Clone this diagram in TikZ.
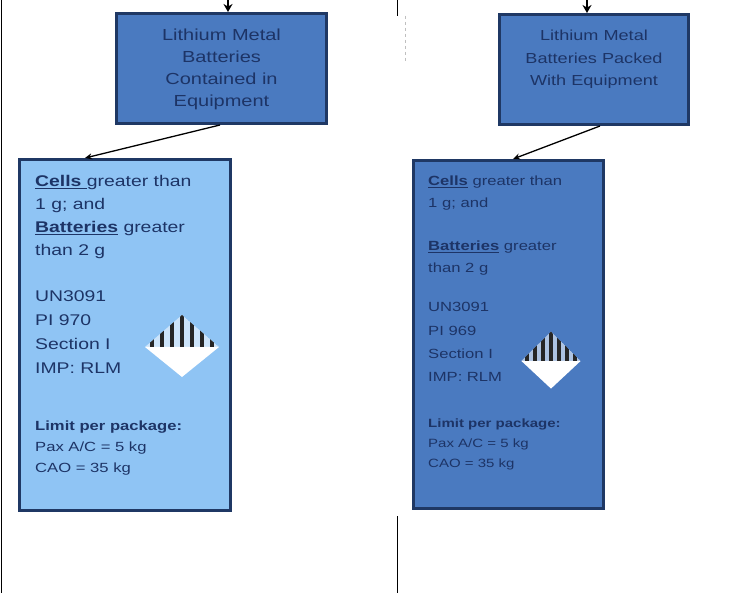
\documentclass[tikz,border=0pt]{standalone}
\usepackage{fontspec}
\setmainfont{Liberation Sans}[FakeStretch=1.25]
\usetikzlibrary{arrows.meta}
\definecolor{boxblue}{HTML}{4A7AC0}
\definecolor{lightblue}{HTML}{8FC4F4}
\definecolor{navy}{HTML}{1F3864}
\definecolor{txt}{HTML}{1D3466}
\newcommand{\ulbox}[1]{\setbox0\hbox{#1}\leavevmode\rlap{\rule[-2.6pt]{\wd0}{1.4pt}}\box0\relax}
\newcommand{\hazmark}[4]{%
  \begin{scope}[shift={(#1,#2)}, xscale=#3, yscale=#4]
    \fill[white] (-37,0) -- (0,30) -- (37,0) -- cycle;
    \begin{scope}
      \clip (-37,0) -- (0,-32) -- (37,0) -- cycle;
      \fill[white, opacity=0.55] (-37,0) -- (0,-32) -- (37,0) -- cycle;
      \foreach \i in {-3,...,3} \fill[black!85] (\i*10-2,-36) rectangle (\i*10+2,0);
    \end{scope}
  \end{scope}}
\begin{document}
\begin{tikzpicture}[x=1pt,y=-1pt,
  panel/.style={draw=navy, line width=3pt, rectangle, inner sep=0pt},
  title/.style={align=center, text=txt, inner sep=0pt},
  txtblk/.style={align=left, text=txt, inner sep=0pt, anchor=north west},
  arr/.style={draw=black, line width=1.3pt, -{Stealth[length=7pt,width=6pt]}},
  toparr/.style={draw=black, line width=2pt, -{Stealth[length=8pt,width=9pt]}},
  frame/.style={draw=black, line width=1pt}]
\useasboundingbox (0,0) rectangle (755,593);
\fill[white] (0,0) rectangle (755,593);
% frame lines and faint marks
\draw[frame] (1.5,0) -- (1.5,593);
\draw[frame] (397,516) -- (397,593);
\draw[frame] (397.5,0) -- (397.5,16);
\draw[black!25, line width=1pt, dashed] (405,16) -- (405,62);
% boxes
\node[panel, fill=boxblue, minimum width=210pt, minimum height=110pt] (tl) at (221.5,68.5) {};
\node[panel, fill=boxblue, minimum width=189pt, minimum height=110pt] (tr) at (594,69.5) {};
\node[panel, fill=lightblue, minimum width=211pt, minimum height=351pt] (bl) at (125,335) {};
\node[panel, fill=boxblue, minimum width=190pt, minimum height=348pt] (br) at (508.5,334.5) {};
% titles
\node[title, font=\fontsize{16}{22}\selectfont] (tlt) at (221.5,69) {Lithium Metal\\Batteries\\Contained in\\Equipment};
\node[title, font=\fontsize{14.5}{22.5}\selectfont] (trt) at (594,59.5) {Lithium Metal\\Batteries Packed\\With Equipment};
% left box text
\node[txtblk, font=\fontsize{15.5}{23}\selectfont] (l1) at (35,175) {\ulbox{\textbf{Cells }}greater than\\1 g; and\\\ulbox{\textbf{Batteries}} greater\\than 2 g};
\node[txtblk, font=\fontsize{15.5}{24}\selectfont] (l2) at (35,290) {UN3091\\PI 970\\Section I\\IMP: RLM};
\node[txtblk, font=\fontsize{13.3}{21}\selectfont] (l3) at (35,420.5) {\textbf{Limit per package:}\\Pax A/C = 5 kg\\CAO = 35 kg};
% right box text
\node[txtblk, font=\fontsize{13.3}{21.7}\selectfont] (r1) at (428,175.5) {\ulbox{\textbf{Cells}} greater than\\1 g; and\\[21.7pt]\ulbox{\textbf{Batteries}} greater\\than 2 g};
\node[txtblk, font=\fontsize{13.3}{23.3}\selectfont] (r2) at (428,302.5) {UN3091\\PI 969\\Section I\\IMP: RLM};
\node[txtblk, font=\fontsize{12}{20}\selectfont] (r3) at (428,419) {\textbf{Limit per package:}\\Pax A/C = 5 kg\\CAO = 35 kg};
% hazard marks
\hazmark{182}{347}{1}{1}
\hazmark{551}{361}{0.8}{0.92}
% connectors
\coordinate (c1) at (228,0);
\coordinate (c2) at (587,0);
\draw[toparr] (c1) -- ([xshift=6.5pt]tl.north);
\draw[toparr] (c2) -- ([xshift=-7pt]tr.north);
\draw[arr] ([xshift=-1.5pt]tl.south) -- ([xshift=-40pt]bl.north);
\draw[arr] ([xshift=6pt]tr.south) -- ([xshift=4.5pt]br.north);
\end{tikzpicture}
\end{document}
